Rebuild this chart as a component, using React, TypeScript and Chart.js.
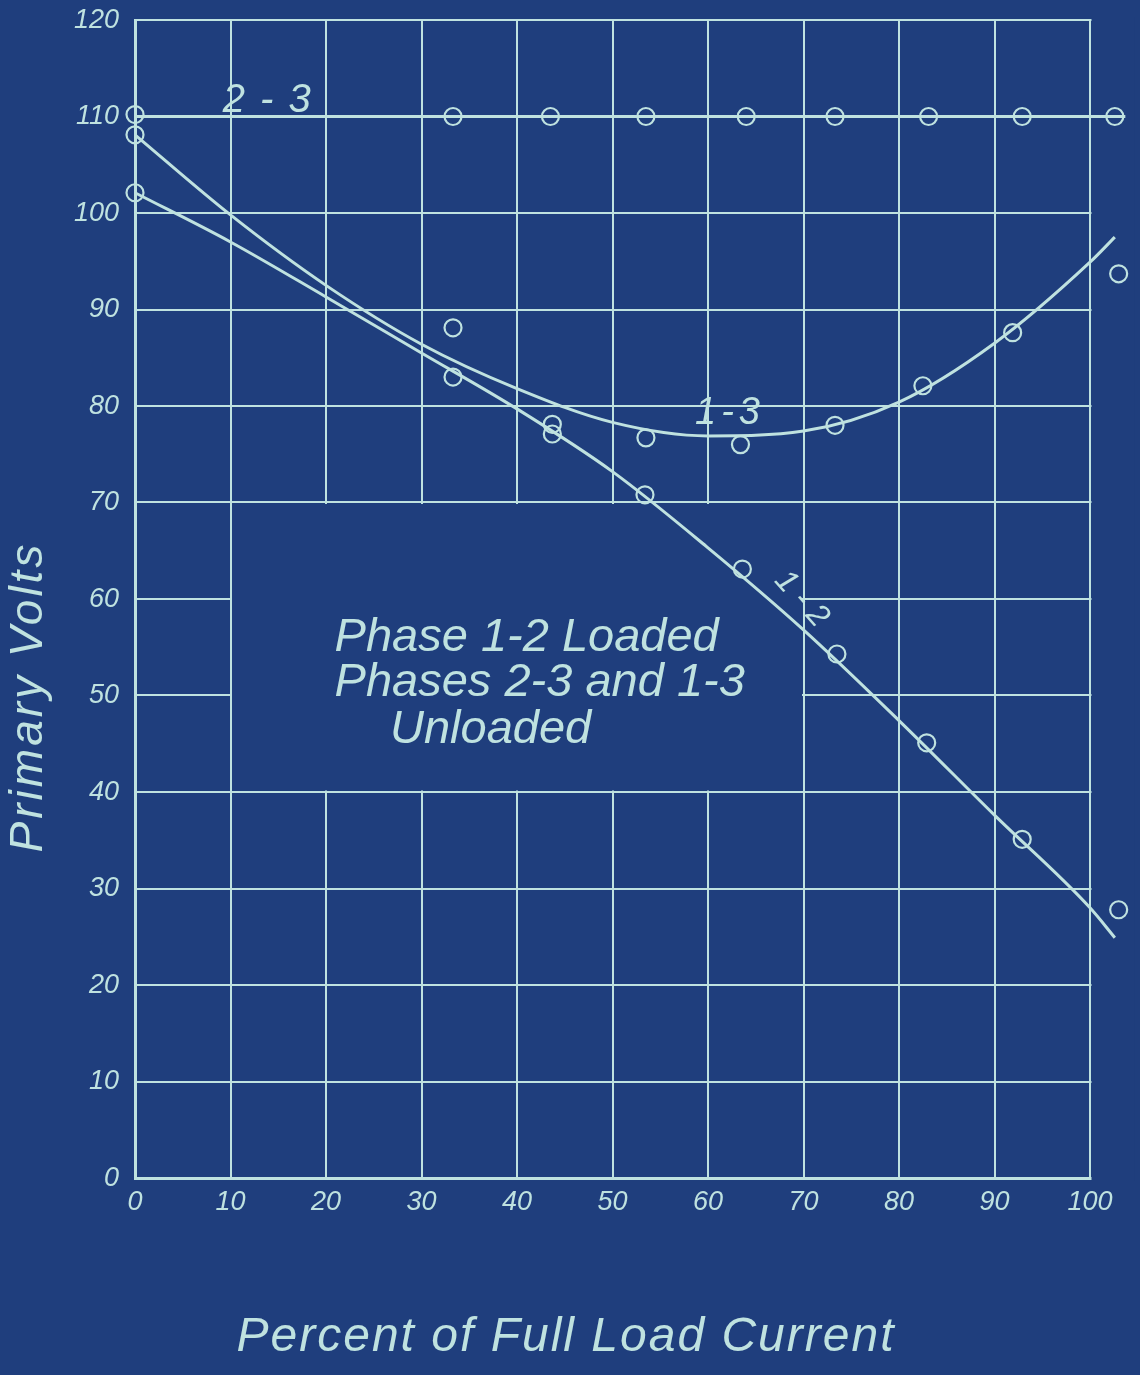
import React, { useEffect, useRef } from 'react';
import { Chart, registerables } from 'chart.js';

Chart.register(...registerables);

// ---- data (read from the blueprint) ----
const X_TICKS = [0, 10, 20, 30, 40, 50, 60, 70, 80, 90, 100];
const Y_TICKS = [0, 10, 20, 30, 40, 50, 60, 70, 80, 90, 100, 110, 120];
const X_AXIS_MAX = 104; // room for the readings beyond 100 %

// measured points (circles)
const PTS_X_23 = [0, 33.3, 43.5, 53.5, 64.0, 73.3, 83.1, 92.9, 102.6];
const PTS_Y_23 = [110.2, 110, 110, 110, 110, 110, 110, 110, 110];
const PTS_X_13 = [0, 33.3, 43.7, 53.5, 63.4, 73.3, 82.5, 91.9, 103.0];
const PTS_Y_13 = [108.1, 88.1, 78.1, 76.7, 76.0, 78.0, 82.1, 87.6, 93.7];
const PTS_X_12 = [0, 33.3, 43.7, 53.4, 63.6, 73.5, 82.9, 92.9, 103.0];
const PTS_Y_12 = [102.1, 83.0, 77.1, 70.8, 63.1, 54.3, 45.1, 35.1, 27.8];

// hand-drawn fitted curves
const FIT_X_23 = [0, 103.7];
const FIT_Y_23 = [110, 110];
const FIT_X_13 = [0, 10, 20, 30, 40, 50, 60, 70, 80, 90, 100, 102.6];
const FIT_Y_13 = [108.1, 99.8, 92.5, 86.4, 81.8, 78.3, 76.9, 77.4, 80.4, 86.5, 94.9, 97.5];
const FIT_X_12 = [0, 10, 20, 30, 40, 50, 60, 70, 80, 90, 100, 102.6];
const FIT_Y_12 = [102.1, 97.0, 91.3, 85.5, 79.7, 73.2, 65.3, 56.8, 47.4, 37.6, 28.0, 24.9];

// blank (unruled) panel holding the note, in data units
const BLANK_X = [10, 70];
const BLANK_Y = [40, 70];

// curve labels, anchored in data units
const CURVE_LABELS = [
  { text: '2 - 3', x: 13.9, y: 111.6, angle: 0, size: 40, spacing: 2 },
  { text: '1-3', x: 62.3, y: 79.2, angle: 0, size: 38, spacing: 5 },
  { text: '1 - 2', x: 69.8, y: 60.0, angle: 48, size: 32, spacing: 0 },
];
const NOTE_LINES = ['Phase 1-2 Loaded', 'Phases 2-3 and 1-3', 'Unloaded'];
const NOTE_X = [20.9, 20.9, 26.7];
const NOTE_Y = [54.6, 49.9, 45.1];

const X_TITLE = 'Percent of Full Load Current';
const Y_TITLE = 'Primary Volts';

const BG = '#1f3e7d';
const INK = '#bfe2e0';
const FONT = '"Liberation Sans", "DejaVu Sans", sans-serif';

const toXY = (xs: number[], ys: number[]) => xs.map((x, i) => ({ x, y: ys[i] }));

const blueprintPlugin = {
  id: 'blueprint',
  beforeDraw(chart: any) {
    const ctx = chart.ctx;
    ctx.save();
    ctx.fillStyle = BG;
    ctx.fillRect(0, 0, chart.width, chart.height);
    ctx.restore();
  },
  beforeDatasetsDraw(chart: any) {
    const { ctx, scales, chartArea } = chart;
    const sx = scales.x;
    const sy = scales.y;
    ctx.save();
    ctx.fillStyle = BG;
    // unruled panel for the note
    const x0 = sx.getPixelForValue(BLANK_X[0]);
    const x1 = sx.getPixelForValue(BLANK_X[1]);
    const y0 = sy.getPixelForValue(BLANK_Y[1]);
    const y1 = sy.getPixelForValue(BLANK_Y[0]);
    ctx.fillRect(x0 + 1.5, y0 + 1.5, x1 - x0 - 3, y1 - y0 - 3);
    // the ruled sheet ends at 100 %
    const xr = sx.getPixelForValue(X_TICKS[X_TICKS.length - 1]);
    ctx.fillRect(xr + 1.5, chartArea.top - 3, chartArea.right - xr + 5, chartArea.bottom - chartArea.top + 6);
    ctx.restore();
  },
  afterDraw(chart: any) {
    const { ctx, scales } = chart;
    const sx = scales.x;
    const sy = scales.y;
    ctx.save();
    ctx.fillStyle = INK;
    // curve labels
    CURVE_LABELS.forEach((l) => {
      ctx.save();
      ctx.translate(sx.getPixelForValue(l.x), sy.getPixelForValue(l.y));
      ctx.rotate((l.angle * Math.PI) / 180);
      ctx.font = `italic ${l.size}px ${FONT}`;
      (ctx as any).letterSpacing = `${l.spacing}px`;
      ctx.textAlign = 'center';
      ctx.textBaseline = 'middle';
      ctx.fillText(l.text, 0, 0);
      ctx.restore();
    });
    // note
    (ctx as any).letterSpacing = '0px';
    ctx.font = `italic 47px ${FONT}`;
    ctx.textAlign = 'left';
    ctx.textBaseline = 'alphabetic';
    NOTE_LINES.forEach((t, i) => {
      ctx.fillText(t, sx.getPixelForValue(NOTE_X[i]), sy.getPixelForValue(NOTE_Y[i]));
    });
    // axis titles
    ctx.textAlign = 'center';
    ctx.textBaseline = 'middle';
    (ctx as any).letterSpacing = '2px';
    ctx.font = `italic 48px ${FONT}`;
    ctx.fillText(X_TITLE, 566, 1338);
    ctx.save();
    ctx.translate(29, 697);
    ctx.rotate(-Math.PI / 2);
    (ctx as any).letterSpacing = '3px';
    ctx.font = `italic 46px ${FONT}`;
    ctx.fillText(Y_TITLE, 0, 0);
    ctx.restore();
    ctx.restore();
  },
};

export default function App() {
  const ref = useRef<HTMLCanvasElement>(null);
  useEffect(() => {
    document.body.style.margin = '0';
    document.body.style.background = BG;
    const pointDs = (xs: number[], ys: number[]) => ({
      data: toXY(xs, ys),
      showLine: false,
      pointRadius: 8.5,
      pointHoverRadius: 8.5,
      pointBorderWidth: 2.2,
      pointBorderColor: INK,
      pointBackgroundColor: 'rgba(0,0,0,0)',
      clip: false as any,
    });
    const fitDs = (xs: number[], ys: number[]) => ({
      data: toXY(xs, ys),
      showLine: true,
      borderColor: INK,
      borderWidth: 3,
      pointRadius: 0,
      cubicInterpolationMode: 'monotone' as const,
      clip: false as any,
    });
    const tickFont = { family: FONT, size: 27, style: 'italic' as const };
    const chart = new Chart(ref.current!, {
      type: 'scatter',
      data: {
        datasets: [
          fitDs(FIT_X_23, FIT_Y_23),
          fitDs(FIT_X_13, FIT_Y_13),
          fitDs(FIT_X_12, FIT_Y_12),
          pointDs(PTS_X_23, PTS_Y_23),
          pointDs(PTS_X_13, PTS_Y_13),
          pointDs(PTS_X_12, PTS_Y_12),
        ] as any,
      },
      options: {
        animation: false,
        responsive: false,
        layout: { padding: { top: 20, right: 11.8, left: 0, bottom: 0 } },
        plugins: { legend: { display: false }, tooltip: { enabled: false } },
        scales: {
          x: {
            type: 'linear',
            min: X_TICKS[0],
            max: X_AXIS_MAX,
            afterBuildTicks: (s: any) => {
              s.ticks = X_TICKS.map((v) => ({ value: v }));
            },
            ticks: { color: INK, font: tickFont, padding: 8, maxRotation: 0, autoSkip: false },
            grid: { color: INK, lineWidth: 2, drawTicks: false },
            border: { color: INK, width: 3 },
            afterFit: (s: any) => {
              s.height = 197;
              s.paddingLeft = 0;
              s.paddingRight = 0;
            },
          },
          y: {
            type: 'linear',
            min: Y_TICKS[0],
            max: Y_TICKS[Y_TICKS.length - 1],
            afterBuildTicks: (s: any) => {
              s.ticks = Y_TICKS.map((v) => ({ value: v }));
            },
            ticks: { color: INK, font: tickFont, padding: 16, autoSkip: false },
            grid: { color: INK, lineWidth: 2, drawTicks: false },
            border: { color: INK, width: 3 },
            afterFit: (s: any) => {
              s.width = 135;
              s.paddingTop = 0;
              s.paddingBottom = 0;
            },
          },
        },
      },
      plugins: [blueprintPlugin],
    });
    return () => chart.destroy();
  }, []);
  return (
    <div style={{ width: 1140, height: 1375, background: BG }}>
      <canvas ref={ref} width={1140} height={1375} style={{ display: 'block' }} />
    </div>
  );
}
